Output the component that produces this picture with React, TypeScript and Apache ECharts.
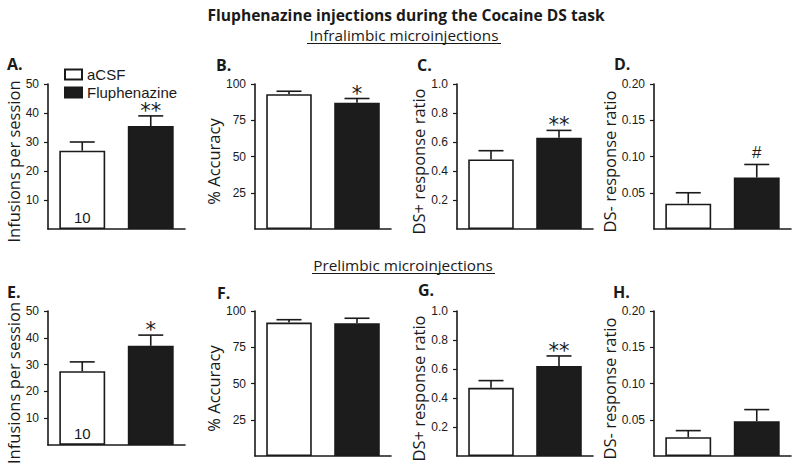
import React, { useEffect, useRef } from 'react';
import * as echarts from 'echarts';

const groups = ['aCSF', 'Fluphenazine'];
const mainTitle = 'Fluphenazine injections during the Cocaine DS task';
const sectionTitles = ['Infralimbic microinjections', 'Prelimbic microinjections'];
const panelLetters = ['A.', 'B.', 'C.', 'D.', 'E.', 'F.', 'G.', 'H.'];
const yNames = [
  'Infusions per session', '% Accuracy', 'DS+ response ratio', 'DS- response ratio',
  'Infusions per session', '% Accuracy', 'DS+ response ratio', 'DS- response ratio',
];
const yMax = [50, 100, 1.0, 0.2, 50, 100, 1.0, 0.2];
const yInterval = [10, 25, 0.2, 0.05, 10, 25, 0.2, 0.05];
const yTickValues = [
  [10, 20, 30, 40, 50], [25, 50, 75, 100], [0.2, 0.4, 0.6, 0.8, 1.0], [0.05, 0.1, 0.15, 0.2],
  [10, 20, 30, 40, 50], [25, 50, 75, 100], [0.2, 0.4, 0.6, 0.8, 1.0], [0.05, 0.1, 0.15, 0.2],
];
const yDecimals = [0, 0, 1, 2, 0, 0, 1, 2];
const aCSFMean = [27, 93, 0.48, 0.035, 27.5, 92, 0.47, 0.026];
const aCSFSem = [3, 2, 0.06, 0.015, 3.5, 2, 0.05, 0.009];
const fluMean = [35.5, 87, 0.63, 0.071, 37, 91.5, 0.62, 0.048];
const fluSem = [3.5, 3, 0.05, 0.018, 4, 3.5, 0.07, 0.016];
const fluMarkers = ['**', '*', '**', '#', '*', '', '**', ''];
const sampleSizeLabels = ['10', '', '', '', '10', '', '', ''];

// layout
const gridLeft = [48, 255, 457, 654];
const gridWidth = [137, 136, 136, 137];
const rowTop = [84, 311];
const gridHeight = 145;
const letterPos = [[7, 64], [216, 65], [417, 65], [614, 64], [7, 292], [217, 293], [418, 290], [613, 292]];

const INK = '#1a1a1a';

function buildOption() {
  const grid: any[] = [];
  const xAxis: any[] = [];
  const yAxis: any[] = [];
  const series: any[] = [];
  for (let i = 0; i < 8; i++) {
    const col = i % 4;
    const row = Math.floor(i / 4);
    grid.push({ left: gridLeft[col], top: rowTop[row], width: gridWidth[col], height: gridHeight });
    xAxis.push({
      type: 'category', gridIndex: i, data: groups,
      axisLine: { lineStyle: { color: INK, width: 1.6 } },
      axisTick: { show: false }, axisLabel: { show: false },
    });
    const dec = yDecimals[i];
    yAxis.push({
      type: 'value', gridIndex: i, min: 0, max: yMax[i], interval: yInterval[i],
      name: yNames[i], nameLocation: 'middle', nameGap: 20,
      nameTextStyle: { fontFamily: 'Open Sans', fontSize: 16.5, color: INK, padding: [0, 10, 0, 0] },
      axisLine: { show: true, lineStyle: { color: INK, width: 1.6 } },
      axisTick: { show: true, length: 4, lineStyle: { color: INK, width: 1.2 }, customValues: yTickValues[i] },
      axisLabel: {
        customValues: yTickValues[i], margin: 9, fontSize: 12, color: INK,
        fontFamily: 'Liberation Sans',
        formatter: (v: number) => v.toFixed(dec),
      },
      splitLine: { show: false },
    });
    series.push({
      type: 'bar', name: groups[0], xAxisIndex: i, yAxisIndex: i,
      barWidth: '67%', barGap: '-100%',
      itemStyle: { color: '#ffffff', borderColor: INK, borderWidth: 1.6 },
      data: [
        {
          value: aCSFMean[i],
          label: {
            show: !!sampleSizeLabels[i], formatter: sampleSizeLabels[i], position: 'insideBottom',
            distance: 4, fontSize: 15, color: INK, fontFamily: 'Liberation Sans',
          },
        },
        '-',
      ],
    });
    series.push({
      type: 'bar', name: groups[1], xAxisIndex: i, yAxisIndex: i,
      barWidth: '67%', barGap: '-100%',
      itemStyle: { color: '#1c1c1c', borderColor: INK, borderWidth: 1.6 },
      data: ['-', fluMean[i]],
    });
    const panel = i;
    series.push({
      type: 'custom', xAxisIndex: i, yAxisIndex: i, clip: false, z: 5, silent: true,
      data: [
        [0, aCSFMean[i], aCSFMean[i] + aCSFSem[i]],
        [1, fluMean[i], fluMean[i] + fluSem[i]],
      ],
      renderItem: (params: any, api: any) => {
        const x = api.value(0);
        const p0 = api.coord([x, api.value(1)]);
        const p1 = api.coord([x, api.value(2)]);
        const half = 12.5;
        const children: any[] = [
          { type: 'line', shape: { x1: p0[0], y1: p0[1], x2: p1[0], y2: p1[1] }, style: { stroke: INK, lineWidth: 1.6 } },
          { type: 'line', shape: { x1: p1[0] - half, y1: p1[1], x2: p1[0] + half, y2: p1[1] }, style: { stroke: INK, lineWidth: 1.6 } },
        ];
        const marker = params.dataIndex === 1 ? fluMarkers[panel] : '';
        if (marker) {
          const isHash = marker === '#';
          children.push({
            type: 'text',
            x: p1[0], y: p1[1] - (isHash ? 12 : 5),
            style: {
              text: marker, fill: INK, align: 'center', verticalAlign: 'middle',
              fontFamily: isHash ? 'Liberation Sans' : 'DejaVu Sans',
              fontSize: isHash ? 17 : 21,
            },
          });
        }
        return { type: 'group', children };
      },
    });
  }

  const graphic: any[] = [
    {
      type: 'text', x: 406, y: 15,
      style: { text: mainTitle, align: 'center', verticalAlign: 'middle', fontFamily: 'Open Sans', fontWeight: 'bold', fontSize: 15.6, fill: INK },
    },
    {
      type: 'text', x: 404, y: 35,
      style: { text: sectionTitles[0], align: 'center', verticalAlign: 'middle', fontFamily: 'Open Sans', fontSize: 15.3, fill: INK },
    },
    { type: 'line', shape: { x1: 307, y1: 43.5, x2: 501, y2: 43.5 }, style: { stroke: INK, lineWidth: 1 } },
    {
      type: 'text', x: 403, y: 265,
      style: { text: sectionTitles[1], align: 'center', verticalAlign: 'middle', fontFamily: 'Open Sans', fontSize: 15.3, fill: INK },
    },
    { type: 'line', shape: { x1: 312, y1: 273.5, x2: 495, y2: 273.5 }, style: { stroke: INK, lineWidth: 1 } },
  ];
  panelLetters.forEach((t, i) => {
    graphic.push({
      type: 'text', x: letterPos[i][0], y: letterPos[i][1],
      style: { text: t, align: 'left', verticalAlign: 'middle', fontFamily: 'Open Sans', fontWeight: 'bold', fontSize: 16, fill: INK },
    });
  });

  return {
    animation: false,
    backgroundColor: '#ffffff',
    textStyle: { fontFamily: 'Liberation Sans' },
    legend: {
      orient: 'vertical', left: 59, top: 62, itemGap: 3, itemWidth: 17, itemHeight: 10, icon: 'rect',
      selectedMode: false,
      data: groups,
      textStyle: { fontSize: 15, color: INK, fontFamily: 'Liberation Sans' },
    },
    grid, xAxis, yAxis, series, graphic,
  };
}

export default function App() {
  const ref = useRef<HTMLDivElement>(null);
  useEffect(() => {
    if (!ref.current) return;
    const chart = echarts.init(ref.current, undefined, { renderer: 'svg' });
    chart.setOption(buildOption() as any);
    return () => chart.dispose();
  }, []);
  return <div ref={ref} style={{ position: 'fixed', left: 0, top: 0, width: 800, height: 466 }} />;
}
